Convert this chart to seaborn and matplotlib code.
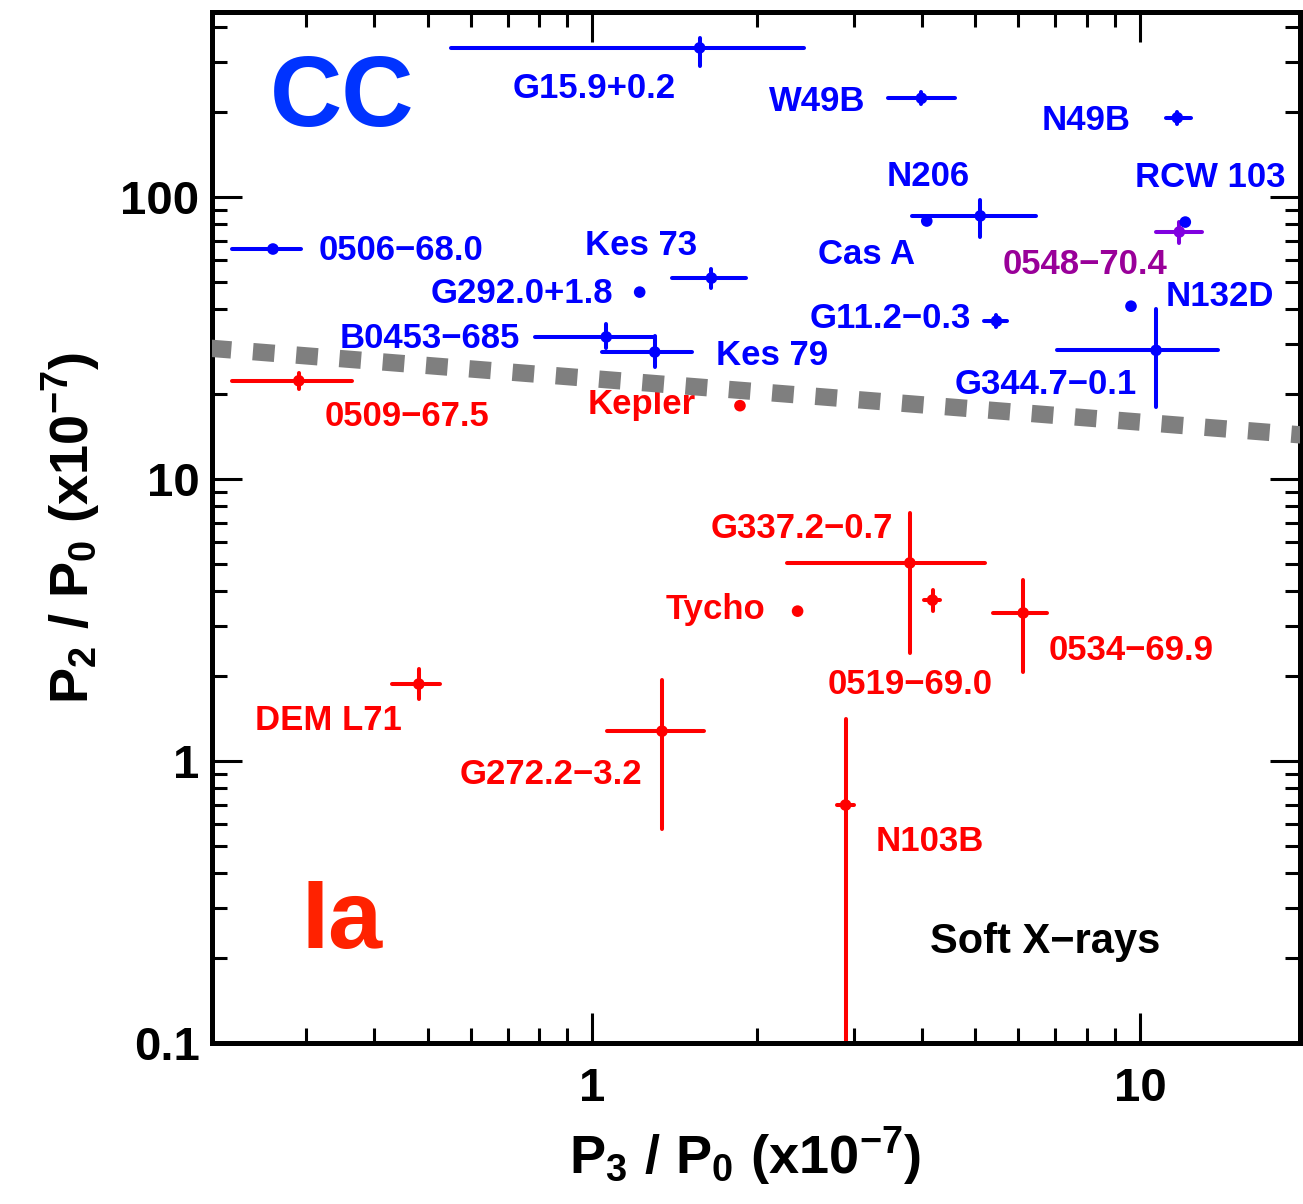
import numpy as np
import pandas as pd
import matplotlib
matplotlib.use("Agg")
import matplotlib.pyplot as plt
import seaborn as sns
from matplotlib.ticker import FixedLocator, NullFormatter, FixedFormatter

# Supernova remnant power-ratio measurements (units of 1e-7)
names = ["G15.9+0.2", "W49B", "N49B", "N206", "Cas A", "RCW 103", "0548\u221270.4",
         "N132D", "G11.2\u22120.3", "G344.7\u22120.1", "0506\u221268.0", "Kes 73",
         "G292.0+1.8", "B0453\u2212685", "Kes 79",
         "0509\u221267.5", "Kepler", "G337.2\u22120.7", "Tycho", "0519\u221269.0",
         "0534\u221269.9", "DEM L71", "G272.2\u22123.2", "N103B"]
kind = ["CC"] * 6 + ["mixed"] + ["CC"] * 8 + ["Ia"] * 9

p3 = [1.57, 3.99, 11.7, 5.11, 4.08, 12.1, 11.8, 9.63, 5.47, 10.7, 0.261, 1.65,
      1.22, 1.06, 1.30,
      0.291, 1.86, 3.80, 2.37, 4.18, 6.12, 0.482, 1.34, 2.90]
p3_lo = [0.551, 3.47, 11.15, 3.83, 4.08, 12.1, 10.7, 9.63, 5.18, 7.06, 0.220, 1.40,
         1.22, 0.787, 1.04,
         0.220, 1.86, 2.27, 2.37, 4.04, 5.40, 0.430, 1.065, 2.80]
p3_hi = [2.43, 4.60, 12.4, 6.47, 4.08, 12.1, 13.0, 9.63, 5.72, 13.9, 0.294, 1.91,
         1.22, 1.30, 1.52,
         0.364, 1.86, 5.22, 2.37, 4.32, 6.77, 0.526, 1.60, 3.01]

p2 = [338, 224, 191, 85.7, 82.2, 81.5, 75.2, 41.0, 36.3, 28.6, 65.4, 51.6,
      46.0, 31.9, 28.2,
      22.3, 18.2, 5.04, 3.40, 3.72, 3.35, 1.875, 1.276, 0.698]
p2_lo = [292, 214, 181, 72.1, 82.2, 81.5, 68.7, 41.0, 34.6, 18.0, 65.4, 47.5,
         46.0, 29.2, 24.9,
         20.8, 18.2, 2.42, 3.40, 3.40, 2.07, 1.66, 0.574, 0.05]
p2_hi = [366, 235, 200, 97.5, 82.2, 81.5, 81.5, 41.0, 38.2, 40.1, 65.4, 55.6,
         46.0, 35.5, 32.1,
         23.8, 18.2, 7.57, 3.40, 4.04, 4.39, 2.12, 1.94, 1.41]

# Empirical dividing line between the two classes
boundary_p3 = [0.2, 20.0]
boundary_p2 = [29.1, 14.3]

# Label placement: (dx, dy) in pixels from the point, horizontal alignment
label_pos = {
    "G15.9+0.2": (-105, -41, "center"),
    "W49B": (-56, -3, "right"),
    "N49B": (-47, -3, "right"),
    "N206": (-52, 39, "center"),
    "Cas A": (-60, -33, "center"),
    "RCW 103": (25, 45, "center"),
    "0548\u221270.4": (-94, -33, "center"),
    "N132D": (35, 10, "left"),
    "G11.2\u22120.3": (-25, 3, "right"),
    "G344.7\u22120.1": (-110, -34, "center"),
    "0506\u221268.0": (46, -1, "left"),
    "Kes 73": (-70, 33, "center"),
    "G292.0+1.8": (-26, -1, "right"),
    "B0453\u2212685": (-86, -2, "right"),
    "Kes 79": (61, -3, "left"),
    "0509\u221267.5": (108, -36, "center"),
    "Kepler": (-44, 1, "right"),
    "G337.2\u22120.7": (-108, 34, "center"),
    "Tycho": (-32, 2, "right"),
    "0519\u221269.0": (-22, -84, "center"),
    "0534\u221269.9": (25, -38, "left"),
    "DEM L71": (-17, -36, "right"),
    "G272.2\u22123.2": (-20, -43, "right"),
    "N103B": (30, -36, "left"),
}

marker_colors = {"CC": "#0000ff", "Ia": "#ff0000", "mixed": "#8000e0"}
label_colors = {"CC": "#0000ff", "Ia": "#ff0000", "mixed": "#990099"}

df = pd.DataFrame({"name": names, "kind": kind, "p3": p3, "p3_lo": p3_lo,
                   "p3_hi": p3_hi, "p2": p2, "p2_lo": p2_lo, "p2_hi": p2_hi})

sns.set_theme(style="ticks")
plt.rcParams["font.family"] = ["Liberation Sans", "DejaVu Sans"]
plt.rcParams["font.weight"] = "bold"
plt.rcParams["text.color"] = "black"
plt.rcParams["axes.labelcolor"] = "black"
plt.rcParams["xtick.color"] = "black"
plt.rcParams["ytick.color"] = "black"
plt.rcParams["mathtext.fontset"] = "custom"
plt.rcParams["mathtext.rm"] = "Liberation Sans:bold"
plt.rcParams["mathtext.it"] = "Liberation Sans:bold"
plt.rcParams["mathtext.bf"] = "Liberation Sans:bold"
plt.rcParams["mathtext.sf"] = "Liberation Sans:bold"
plt.rcParams["mathtext.default"] = "rm"

fig = plt.figure(figsize=(13.03, 12.04), dpi=100)
ax = fig.add_axes([212 / 1303, 1 - 1043 / 1204, 1088 / 1303, 1031 / 1204])
ax.set_xscale("log")
ax.set_yscale("log")
ax.set_xlim(0.202, 19.6)
ax.set_ylim(0.1, 453)

# Error bars, class by class
for k in ["CC", "Ia", "mixed"]:
    sub = df[df["kind"] == k]
    eb = ax.errorbar(sub["p3"], sub["p2"],
                     xerr=[sub["p3"] - sub["p3_lo"], sub["p3_hi"] - sub["p3"]],
                     yerr=[sub["p2"] - sub["p2_lo"], sub["p2_hi"] - sub["p2"]],
                     fmt="none", ecolor=marker_colors[k], elinewidth=2.9,
                     capsize=0, zorder=2)
    for lc in eb.lines[2]:
        lc.set_capstyle("round")

sns.scatterplot(data=df, x="p3", y="p2", hue="kind", palette=marker_colors,
                hue_order=["CC", "Ia", "mixed"], s=70, edgecolor="none",
                legend=False, ax=ax, zorder=3)

# Source names
for _, r in df.iterrows():
    dx, dy, ha = label_pos[r["name"]]
    ax.annotate(r["name"], (r["p3"], r["p2"]), xytext=(dx, dy),
                textcoords="offset pixels", ha=ha, va="center",
                fontsize=25, fontweight="bold", color=label_colors[r["kind"]],
                zorder=3)

# Dividing line
ax.plot(boundary_p3, boundary_p2, color="#7f7f7f", lw=12.5,
        dashes=(1.25, 1.25), solid_capstyle="butt", dash_capstyle="butt",
        zorder=4)

ax.text(0.12, 0.915, "CC", transform=ax.transAxes, fontsize=72,
        fontweight="bold", color="#0033ff", ha="center", va="center")
ax.text(0.12, 0.116, "Ia", transform=ax.transAxes, fontsize=70,
        fontweight="bold", color="#ff2200", ha="center", va="center")
ax.text(0.766, 0.098, "Soft X\u2212rays", transform=ax.transAxes, fontsize=30,
        fontweight="bold", color="black", ha="center", va="center")

# Axes styling
for sp in ax.spines.values():
    sp.set_linewidth(3.6)
    sp.set_color("black")

ax.xaxis.set_major_locator(FixedLocator([1, 10]))
ax.xaxis.set_major_formatter(FixedFormatter(["1", "10"]))
ax.xaxis.set_minor_locator(FixedLocator([0.3, 0.4, 0.5, 0.6, 0.7, 0.8, 0.9,
                                         2, 3, 4, 5, 6, 7, 8, 9]))
ax.xaxis.set_minor_formatter(NullFormatter())
ax.yaxis.set_major_locator(FixedLocator([0.1, 1, 10, 100]))
ax.yaxis.set_major_formatter(FixedFormatter(["0.1", "1", "10", "100"]))
ax.yaxis.set_minor_locator(FixedLocator(
    [m * 10.0 ** e for e in range(-1, 3) for m in range(2, 10)]))
ax.yaxis.set_minor_formatter(NullFormatter())

ax.tick_params(which="both", direction="in", top=True, right=True,
               color="black", labelcolor="black", labelsize=34)
ax.tick_params(which="major", length=21.6, width=2.2)
ax.tick_params(which="minor", length=10.5, width=2.2)
ax.tick_params(axis="x", which="major", pad=17)
ax.tick_params(axis="y", which="major", pad=9)
for lab in ax.get_xticklabels() + ax.get_yticklabels():
    lab.set_fontweight("bold")

ax.set_xlabel(r"$P_3\ /\ P_0\ (x10^{-7})$", fontsize=39, color="black")
ax.set_ylabel(r"$P_2\ /\ P_0\ (x10^{-7})$", fontsize=39, color="black")
ax.xaxis.set_label_coords(0.49, -0.08)
ax.yaxis.set_label_coords(-0.1, 0.5)

fig.savefig("out.png", dpi=100)
